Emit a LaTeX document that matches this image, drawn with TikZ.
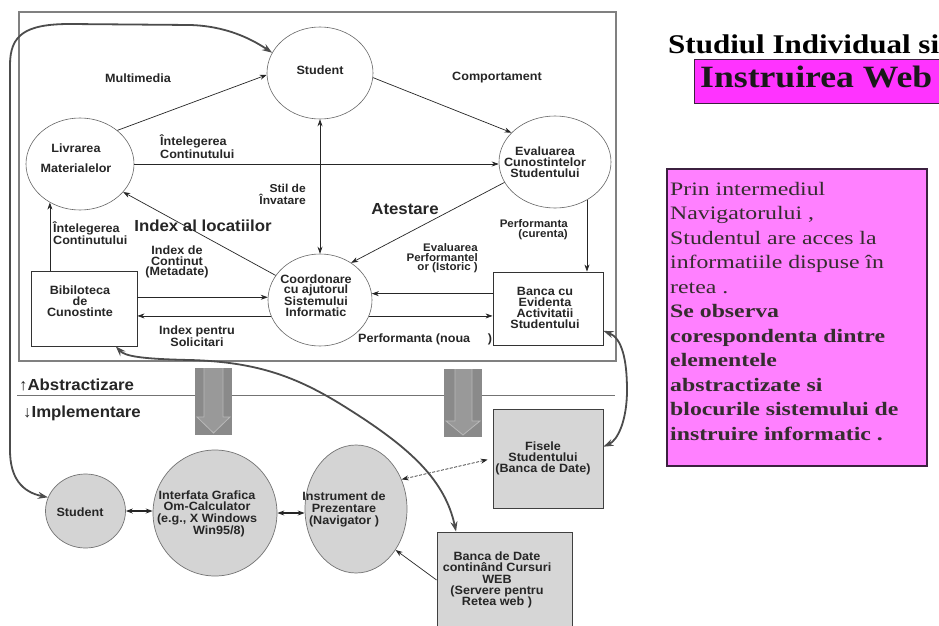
\documentclass[tikz,border=0pt]{standalone}
\usepackage{fontspec}
\usetikzlibrary{shapes.geometric,arrows.meta}
\setmainfont{Liberation Sans}
\newfontfamily\dsf[FakeStretch=1.05]{Liberation Sans}
\newfontfamily\tsr[FakeStretch=1.25]{Liberation Serif}
\newfontfamily\tst[FakeStretch=1.15]{Liberation Serif}
\definecolor{pinkbox}{HTML}{FF80FF}
\definecolor{magbox}{HTML}{FF33FF}
\definecolor{pinkborder}{HTML}{3C2040}
\definecolor{ink}{HTML}{262626}
\begin{document}
\begin{tikzpicture}[x=1pt,y=-1pt,
  ell/.style={ellipse, draw=black!60, line width=0.6pt, fill=white, inner sep=0pt},
  gell/.style={ellipse, draw=black!55, line width=0.7pt, fill=black!17, inner sep=0pt},
  wbox/.style={rectangle, draw=black!80, line width=0.9pt, fill=white, inner sep=0pt},
  gbox/.style={rectangle, draw=black!75, line width=0.9pt, fill=black!16, inner sep=0pt},
  txt/.style={font=\dsf\bfseries\fontsize{12}{10.8}\selectfont, text=ink, inner sep=0pt, align=center},
  btxt/.style={font=\dsf\bfseries\fontsize{16}{17}\selectfont, text=ink, inner sep=0pt},
  arr/.style={-{Stealth[length=7pt,width=5pt]}, line width=0.7pt, draw=black!85},
  darr/.style={{Stealth[length=7pt,width=5pt]}-{Stealth[length=7pt,width=5pt]}, line width=0.7pt, draw=black!85},
  sarr/.style={{Stealth[length=7pt,width=5pt]}-{Stealth[length=7pt,width=5pt]}, line width=1.3pt, draw=black!85},
  curve/.style={{Stealth[length=10pt,width=7pt]}-{Stealth[length=10pt,width=7pt]}, line width=1.8pt, draw=black!70},
  blockbg/.style={fill=black!46},
  blockarrow/.style={draw=black!28, fill=black!40, line width=0.8pt}
]
\useasboundingbox (0,0) rectangle (939,626);
\fill[white] (0,0) rectangle (939,626);

% ---------- upper frame and separator
\draw[black!50, line width=1.2pt] (19,12) rectangle (616,361);
\draw[black!55, line width=0.9pt] (17,395) -- (615,395);
\node[btxt, anchor=west] (abs) at (19,385) {↑Abstractizare};
\node[btxt, anchor=west] (imp) at (23,413) {↓Implementare};

% ---------- block arrows
\fill[blockbg] (195,368) rectangle (232,435);
\draw[blockarrow] (204,368) -- (204,417) -- (197,417) -- (213.5,433) -- (230,417) -- (223,417) -- (223,368);
\fill[blockbg] (444,369) rectangle (482,437);
\draw[blockarrow] (455,369) -- (455,421) -- (446,421) -- (463,435) -- (480,421) -- (472,421) -- (472,369);

% ---------- upper nodes
\node[ell, minimum width=106pt, minimum height=92pt] (st) at (320,73) {};
\node[ell, minimum width=108pt, minimum height=92pt] (li) at (80,164) {};
\node[ell, minimum width=112pt, minimum height=92pt] (ev) at (555,162) {};
\node[ell, minimum width=104pt, minimum height=92pt] (co) at (320,300) {};
\node[wbox, minimum width=106pt, minimum height=75pt] (bib) at (84,308.5) {};
\node[wbox, minimum width=110pt, minimum height=73pt] (banca) at (548,308.5) {};

% ---------- lower nodes
\node[gbox, minimum width=110pt, minimum height=99pt] (fis) at (548,458.5) {};
\node[gbox, minimum width=135pt, minimum height=96pt] (bdd) at (504.5,580) {};
\node[gell, minimum width=80pt, minimum height=74pt] (s2) at (85.5,511) {};
\node[gell, minimum width=124pt, minimum height=126pt] (gi) at (215,513) {};
\node[gell, minimum width=102pt, minimum height=128pt] (ins) at (356,509) {};

% ---------- upper connectors
\draw[arr] (li.42) -- (st.182);
\draw[arr] (st.-5) -- (ev.146);
\draw[arr] (li.east) -- (li.east -| ev.west);
\draw[darr] (st.south) -- (co.north);
\draw[arr] (ev.202) -- (co.50);
\draw[arr] (co.151) -- (li.-33);
\draw[arr] (bib.north -| li.-128) -- (li.-128);
\draw[arr] (bib.east |- co.177) -- (co.177);
\draw[arr] (co.198) -- (bib.east |- co.198);
\draw[arr] (banca.west |- co.7) -- (co.7);
\draw[arr] (co.-18) -- (banca.west |- co.-18);
\draw[arr] (ev.-50) -- (ev.-50 |- banca.north);

% ---------- lower connectors
\draw[sarr] (s2.east) -- (s2.east -| gi.west);
\draw[sarr] (gi.east) -- (gi.east -| ins.west);
\draw[darr, dash pattern=on 3pt off 1.5pt, shorten >=5pt] (ins.33) -- (fis.west);
\draw[arr] (bdd.west) -- (ins.-46);

% ---------- node texts
\node[txt] (stT) at (320,70) {Student};
\node[txt, font=\dsf\bfseries\fontsize{12}{20}\selectfont] (liT) at (76,158) {Livrarea\\Materialelor};
\node[txt] (evT) at (545,162) {Evaluarea\\Cunostintelor\\Studentului};
\node[txt, font=\dsf\bfseries\fontsize{12}{10.5}\selectfont] (coT) at (316,295.5) {Coordonare\\cu ajutorul\\Sistemului\\Informatic};
\node[txt, font=\dsf\bfseries\fontsize{12}{11}\selectfont] (bibT) at (80,301) {Bibiloteca\\de\\Cunostinte};
\node[txt, font=\dsf\bfseries\fontsize{12}{10.8}\selectfont] (bancaT) at (545,308) {Banca cu\\Evidenta\\Activitatii\\Studentului};
\node[txt, font=\dsf\bfseries\fontsize{12}{11}\selectfont] (fisT) at (543,458) {Fisele\\Studentului\\(Banca de Date)};
\node[txt, font=\dsf\bfseries\fontsize{12}{11.2}\selectfont] (bddT) at (497,580) {Banca de Date\\continând Cursuri\\WEB\\(Servere pentru\\Retea web )};
\node[txt] (s2T) at (80,512) {Student};
\node[txt, font=\dsf\bfseries\fontsize{12}{11.6}\selectfont] (giT) at (207,513.5) {Interfata Grafica\\Om-Calculator\\(e.g., X Windows\\\hspace*{24pt}Win95/8)};
\node[txt, font=\dsf\bfseries\fontsize{12}{12}\selectfont] (insT) at (344,509) {Instrument de\\Prezentare\\(Navigator )};

% ---------- connector labels
\node[txt] (l1) at (138,78) {Multimedia};
\node[txt] (l2) at (497,78) {Comportament};
\node[txt, align=left, anchor=west, font=\dsf\bfseries\fontsize{12}{12.5}\selectfont] (l3) at (160,146.5) {Întelegerea\\Continutului};
\node[txt, align=right, anchor=east, font=\dsf\bfseries\fontsize{11.5}{10}\selectfont] (l4) at (306,194.5) {Stil de\\Învatare};
\node[btxt] (l5) at (203,226) {Index al locatiilor};
\node[btxt] (l6) at (405,209) {Atestare};
\node[txt, align=left, anchor=west, font=\dsf\bfseries\fontsize{12}{12}\selectfont] (l7) at (53,233) {Întelegerea\\Continutului};
\node[txt, align=right, anchor=east, font=\dsf\bfseries\fontsize{11}{10}\selectfont] (l8) at (568,230) {Performanta\\(curenta)};
\node[txt, font=\dsf\bfseries\fontsize{12}{10.2}\selectfont] (l9) at (177,262) {Index de\\Continut\\(Metadate)};
\node[txt, align=right, anchor=east, font=\dsf\bfseries\fontsize{11}{9.6}\selectfont] (l10) at (478,258.5) {Evaluarea\\Performantel\\or (Istoric )};
\node[txt, font=\dsf\bfseries\fontsize{12}{12}\selectfont] (l11) at (197,336) {Index pentru\\Solicitari};
\node[txt, anchor=west] (l12) at (358,339) {Performanta (noua};
\node[txt] (l12b) at (490,339) {)};

% ---------- long curved connectors
\draw[curve] (s2.160) .. controls (22,492) and (10,478) .. (10,450) -- (10,65) .. controls (10,35) and (25,24) .. (70,24) -- (190,25) .. controls (225,26) and (250,38) .. (st.157);
\draw[curve] (bib.-50) .. controls (125,356) and (140,359) .. (190,360) .. controls (260,362) and (300,378) .. (350,410) .. controls (410,448) and (445,480) .. (bdd.135);
\draw[curve] (banca.-22) .. controls (622,338) and (627,360) .. (627,390) .. controls (627,420) and (618,440) .. (fis.12);

% ---------- right side
\node[font=\tst\bfseries\fontsize{27}{30}\selectfont, anchor=base west, inner sep=0pt, text=black] (title) at (668,53) {Studiul Individual si};
\node[draw=pinkborder, line width=1pt, fill=magbox, minimum width=251pt, minimum height=44pt, anchor=north west, inner sep=0pt] (magb) at (694,59) {};
\node[font=\tst\bfseries\fontsize{31}{34}\selectfont, anchor=base west, inner sep=0pt, text=black!90] (web) at (700,87) {Instruirea Web};
\node[draw=pinkborder, line width=1.6pt, fill=pinkbox, minimum width=260pt, minimum height=297pt, anchor=north west, inner sep=0pt] (pbox) at (666,168) {};
\node[anchor=base west, inner sep=0pt, text=black!92!magenta] (ptext) at (670,195) {\parbox[t]{256pt}{\tsr\fontsize{19}{24.5}\selectfont
Prin intermediul\\
Navigatorului ,\\
Studentul are acces la\\
informatiile dispuse în\\
retea .\\
\textbf{Se observa}\\
\textbf{corespondenta dintre}\\
\textbf{elementele}\\
\textbf{abstractizate si}\\
\textbf{blocurile sistemului de}\\
\textbf{instruire informatic .}}};
\end{tikzpicture}
\end{document}
